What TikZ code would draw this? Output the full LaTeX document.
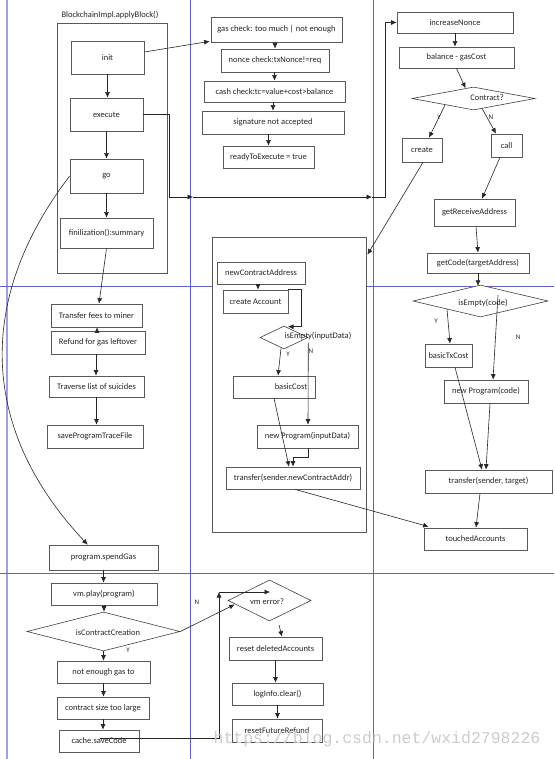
\documentclass[tikz,border=0pt]{standalone}
\usepackage{fontspec}
\setmainfont{Carlito}
\newfontfamily\wmfont{Liberation Mono}
\usetikzlibrary{arrows.meta,shapes.geometric,calc}
\begin{document}
\begin{tikzpicture}[x=1pt,y=-1pt,
  box/.style={draw=black!65, line width=0.7pt, fill=white, inner sep=0pt, text=black!85, font=\fontsize{8.5}{9}\selectfont},
  dia/.style={draw=black!75, line width=0.6pt, fill=white, shape=diamond, inner sep=0pt},
  cont/.style={draw=black!65, line width=0.8pt, fill=white, inner sep=0pt},
  lbl/.style={font=\fontsize{8.5}{9}\selectfont, text=black!85, inner sep=0pt},
  yn/.style={font=\fontsize{7}{8}\selectfont, text=black!85, inner sep=0pt},
  arr/.style={draw=black!85, line width=0.6pt, -{Latex[length=5.5pt,width=5pt]}},
  lane/.style={draw={rgb,255:red,95;green,95;blue,205}, line width=1pt},
  lane0/.style={draw={rgb,255:red,160;green,160;blue,230}, line width=2pt}
]
\useasboundingbox (0,0) rectangle (554,759);
\fill[white] (0,0) rectangle (554,759);
% swimlane grid
\draw[lane0] (7,0) -- (7,759);
\draw[lane] (190.5,0) -- (190.5,759);
\draw[lane] (373.5,0) -- (373.5,759);
\draw[lane] (0,286.5) -- (554,286.5);
\draw[lane] (0,573.5) -- (554,573.5);

% containers
\node[cont, minimum width=110, minimum height=250] (blk) at (112,148) {};
\node[lbl] (blkT) at (110,15) {BlockchainImpl.applyBlock()};
\node[cont, minimum width=154, minimum height=295] (cont2) at (289,384.5) {};

% left column top
\node[box, minimum width=73, minimum height=33] (init) at (107.5,57.5) {init};
\node[box, minimum width=73, minimum height=33] (exec) at (106.5,114.5) {execute};
\node[box, minimum width=73, minimum height=34] (go) at (106.5,176) {go};
\node[box, minimum width=93, minimum height=30] (fin) at (106.5,233) {finilization():summary};

% middle top
\node[box, minimum width=131, minimum height=25] (gas) at (276.5,29.5) {gas check: too much | not enough};
\node[box, minimum width=108, minimum height=23] (nonce) at (275,60.5) {nonce check:txNonce!=req};
\node[box, minimum width=141, minimum height=21] (cash) at (274.5,91.5) {cash check:tc=value+cost>balance};
\node[box, minimum width=142, minimum height=23] (sig) at (273,122.5) {signature not accepted};
\node[box, minimum width=91, minimum height=22] (ready) at (268.5,157) {readyToExecute = true};

% right top
\node[box, minimum width=116, minimum height=21] (incN) at (455,22.5) {increaseNonce};
\node[box, minimum width=115, minimum height=21] (bal) at (456.5,57.5) {balance - gasCost};
\node[dia, minimum width=123, minimum height=23] (contract) at (473.5,98.5) {};
\node[lbl] (contractT) at (487,98) {Contract?};
\node[box, minimum width=40, minimum height=24] (create) at (422,150) {create};
\node[box, minimum width=31, minimum height=23] (call) at (506.5,145.5) {call};
\node[box, minimum width=81, minimum height=27] (getRA) at (474.5,212.5) {getReceiveAddress};
\node[box, minimum width=102, minimum height=20] (getCode) at (478,263) {getCode(targetAddress)};
\node[dia, minimum width=135, minimum height=32] (emptyCode) at (480.5,301) {};
\node[lbl] (emptyCodeT) at (483,303) {isEmpty(code)};
\node[box, minimum width=47, minimum height=23] (basicTx) at (448.5,355.5) {basicTxCost};
\node[box, minimum width=84, minimum height=23] (newPC) at (486,391.5) {new Program(code)};
\node[box, minimum width=127, minimum height=23] (transST) at (488.5,481.5) {transfer(sender, target)};
\node[box, minimum width=103, minimum height=22] (touched) at (475.5,539) {touchedAccounts};

% middle create container
\node[box, minimum width=88, minimum height=22] (newCA) at (261,273) {newContractAddress};
\node[box, minimum width=65, minimum height=23] (createAcc) at (255.5,301.5) {create Account};
\node[dia, minimum width=48, minimum height=23] (emptyIn) at (284,337.5) {};
\node[box, minimum width=82, minimum height=22] (basicCost) at (274,387) {};
\node[lbl] (basicCostT) at (291,387) {basicCost};
\node[box, minimum width=101, minimum height=23] (newPI) at (307.5,436.5) {new Program(inputData)};
\node[box, minimum width=134, minimum height=22] (transNCA) at (293,478) {transfer(sender.newContractAddr)};

% left middle
\node[box, minimum width=91, minimum height=23] (transFee) at (96.5,315.5) {Transfer fees to miner};
\node[box, minimum width=94, minimum height=23] (refund) at (98,342.5) {Refund for gas leftover};
\node[box, minimum width=95, minimum height=21] (traverse) at (96.5,386.5) {Traverse list of suicides};
\node[box, minimum width=96, minimum height=23] (saveTrace) at (95,436.5) {saveProgramTraceFile};
\node[box, minimum width=109, minimum height=25] (spendGas) at (103.5,557.5) {program.spendGas};

% bottom
\node[box, minimum width=106, minimum height=22] (vmplay) at (104,594) {vm.play(program)};
\node[dia, minimum width=153, minimum height=39] (isCC) at (103.5,631.5) {};
\node[lbl] (isCCT) at (108,633) {isContractCreation};
\node[box, minimum width=93, minimum height=22] (notEnough) at (103.5,672) {not enough gas to};
\node[box, minimum width=92, minimum height=22] (sizeLarge) at (103,708) {contract size too large};
\node[box, minimum width=80, minimum height=22] (cache) at (99,741) {cache.saveCode};
\node[dia, minimum width=83, minimum height=41] (vmerr) at (269.5,600.5) {};
\node[lbl] (vmerrT) at (267,602) {vm error?};
\node[box, minimum width=93, minimum height=23] (resetDel) at (275.5,648.5) {reset deletedAccounts};
\node[box, minimum width=91, minimum height=22] (logInfo) at (277.5,694) {logInfo.clear()};
\node[box, minimum width=90, minimum height=23] (resetFR) at (277,730.5) {resetFutureRefund};

% Y / N labels
\node[yn] (y1) at (439,117) {Y};
\node[yn] (n1) at (491,117) {N};
\node[yn] (y2) at (436,321) {Y};
\node[yn] (n2) at (518,337) {N};
\node[yn] (y3) at (288,354) {Y};
\node[yn] (n3) at (311,351) {N};
\node[yn] (n4) at (197,602) {N};
\node[yn] (y4) at (128,650) {Y};

% connectors: left column
\draw[arr] ($(init.east)+(0,-5.5)$) -- ($(gas.south west)+(-1,-1)$);
\draw[arr] (init.south) -- (init.south |- exec.north);
\draw[arr] (exec.south) -- (exec.south |- go.north);
\draw[arr] (go.south) -- (go.south |- fin.north);
\coordinate (e1) at (169,197);
\coordinate (e2) at (193,197);
\coordinate (e3) at (372,197);
\coordinate (e4) at (385,197);
\draw[arr] (exec.east) -| (e1) -- (e2);
\draw[arr] (e2) -- (e3);
\draw[arr] (e3) -- (e4) |- (incN.west);

% middle top
\draw[arr] (nonce.north |- gas.south) -- (nonce.north);
\draw[arr] (cash.north |- nonce.south) -- (cash.north);
\draw[arr] (sig.north |- cash.south) -- (sig.north);
\draw[arr] (ready.north |- sig.south) -- (ready.north);

% right column
\draw[arr] (incN.south) -- (incN.south |- bal.north);
\draw[arr] (bal.south) -- ($(contract.north)+(-8,1.5)$);
\draw[arr] ($(contract.center)+(-28.5,6.5)$) -- ($(create.north)+(7,0)$);
\draw[arr] ($(contract.center)+(8.5,9.9)$) -- ($(call.north)+(-10.5,0)$);
\draw[arr] ($(call.south)+(-6.5,0)$) -- ($(getRA.north)+(7.5,0)$);
\draw[arr] ($(getRA.south)+(1.5,0)$) -- (getCode.north);
\draw[arr] (getCode.south) -- ++(0,12.5);
\draw[arr] ($(create.south)+(1,0)$) -- ($(cont2.north east)+(1,18)$);
\draw[arr] ($(emptyCode.center)+(-33.5,8)$) -- ($(basicTx.north)+(1.5,0)$);
\draw[arr] ($(emptyCode.center)+(17.5,-6)$) -- ($(newPC.north)+(7,0)$);
\draw[arr] ($(basicTx.south)+(6.5,0)$) -- ($(transST.north)+(-6.5,0)$);
\draw[arr] ($(newPC.south)+(4,0)$) -- ($(transST.north)+(-2.5,0)$);
\draw[arr] ($(transST.south)+(-8.5,0)$) -- ($(touched.north)+(0.5,0)$);

% create container
\draw[arr] ($(newCA.south)+(-3,0)$) -- ($(createAcc.north)+(2.5,0)$);
\draw[arr] (createAcc.north east) -- ++(13,0) |- ($(emptyIn.north)+(4,1)$);
\draw[arr] ($(emptyIn.south)+(-3,-1)$) -- ($(basicCost.north)+(4,0)$);
\draw[arr] ($(emptyIn.east)+(0,5)$) -- ($(newPI.north)+(0.5,0)$);
\draw[arr] (basicCost.south) -- ($(transNCA.north)+(-4,0)$);
\draw[arr] ($(newPI.south)+(0.5,0)$) -- ++(0,9) -| (transNCA.north);
\draw[arr] ($(transNCA.south)+(2,0)$) -- ($(touched.north west)+(5,-1)$);
\node[lbl] (emptyInT) at (318,336) {isEmpty(inputData)};

% left middle
\draw[arr] (fin.south) -- ($(transFee.north)+(2.5,0)$);
\draw[arr] ($(refund.north)+(-1,0)$) -- ($(transFee.south)+(0.5,0)$);
\draw[arr] ($(refund.south)+(-2,0)$) -- ($(traverse.north)+(-0.5,0)$);
\draw[arr] (traverse.south) -- (traverse.south |- saveTrace.north);
\draw[arr] (go.west) .. controls (-25,300) and (-20,430) .. ($(spendGas.north west)+(39,0)$);

% bottom
\draw[arr] (spendGas.south) -- (spendGas.south |- vmplay.north);
\draw[arr] (vmplay.south) -- (vmplay.south |- isCC.north);
\draw[arr] (isCC.south) -- (isCC.south |- notEnough.north);
\draw[arr] (notEnough.south) -- (notEnough.south |- sizeLarge.north);
\draw[arr] (sizeLarge.south) -- (sizeLarge.south |- cache.north);
\draw[arr] (isCC.east) -- ($(vmerr.west)+(7,4)$);
\coordinate (c1) at (219,738);
\coordinate (c2) at (219,592);
\draw[arr] ($(cache.center)+(1,-3)$) -- (c1) -- (c2);
\draw[arr] (c2) -- ($(vmerr.center)+(0.5,-8.5)$);
\draw[arr] ($(vmerr.center)+(9.5,24.5)$) -- ($(resetDel.north)+(6.5,0)$);
\draw[arr] (resetDel.south) -- (resetDel.south |- logInfo.north);
\draw[arr] (logInfo.south) -- (logInfo.south |- resetFR.north);

% watermark
\node[font=\wmfont\fontsize{16.5}{17}\selectfont, text=black!20, inner sep=0pt] (wm) at (377,739) {https://blog.csdn.net/wxid2798226};
\end{tikzpicture}
\end{document}
